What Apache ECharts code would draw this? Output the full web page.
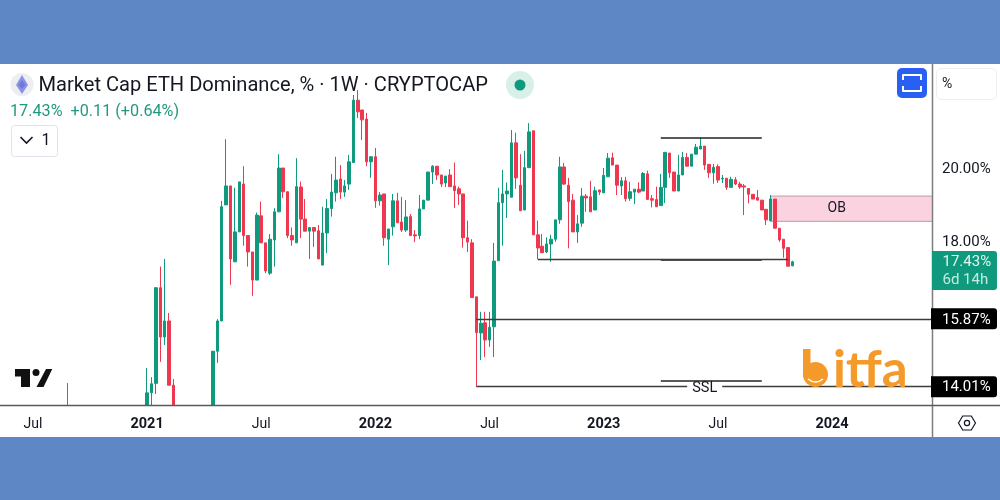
<!DOCTYPE html>
<html>
<head>
<meta charset="utf-8">
<title>Market Cap ETH Dominance</title>
<script src="https://cdn.jsdelivr.net/npm/echarts@6/dist/echarts.min.js"></script>
<style>
  html, body { margin: 0; padding: 0; }
  #chart { width: 1000px; height: 500px; }
</style>
</head>
<body>
<div id="chart"></div>
<script>
// values, one row per ten candles
// weeks hidden under the bottom of the pane are left out
var opens = [13.10,
  13.37,13.84,14.10,16.72,15.37,15.81,14.05,
  13.30,14.98,15.81,18.99,19.51,17.43,18.25,19.56,18.15,17.70,
  16.93,18.69,17.95,17.12,18.03,18.80,20.00,19.35,18.15,17.95,
  19.48,18.60,18.27,18.37,18.28,17.34,18.22,18.89,19.32,19.70,
  19.34,19.56,20.15,21.86,21.59,21.34,20.17,20.31,19.10,19.29,
  18.05,18.39,19.10,18.52,18.30,18.67,18.17,18.15,18.88,19.12,
  19.89,20.05,19.81,19.59,19.81,19.51,19.43,19.29,18.09,17.95,
  16.47,15.48,15.76,15.29,15.65,17.46,19.05,19.29,19.20,20.69,
  19.53,18.85,20.01,21.02,18.17,17.86,17.70,17.92,18.05,18.58,
  20.03,19.53,19.12,18.25,18.49,19.23,19.21,18.85,19.40,19.32,
  19.76,20.28,20.08,19.51,19.65,19.17,19.34,19.42,19.37,19.84,
  19.16,19.14,18.97,19.47,20.41,19.89,19.37,19.81,20.29,20.05,
  20.38,20.52,20.60,20.10,19.87,20.04,19.70,19.72,19.47,19.68,
  19.56,19.51,19.44,19.28,19.19,19.12,18.87,18.56,19.15,18.35,
  18.05,17.82,17.32];
var closes = [13.00,
  13.84,14.09,16.72,15.37,15.81,14.05,13.32,
  14.98,15.81,18.94,19.51,17.51,18.25,19.62,18.15,17.70,16.93,
  18.71,17.95,17.18,18.05,18.80,20.00,19.35,18.15,18.03,19.49,
  18.60,18.27,18.37,18.27,17.51,18.22,18.89,19.34,19.67,19.34,
  19.51,20.17,21.86,21.54,21.32,20.17,20.31,19.10,19.26,18.09,
  18.33,19.10,18.50,18.30,18.66,18.15,18.14,18.88,19.12,19.89,
  20.05,19.81,19.56,19.78,19.49,19.38,19.29,18.09,17.97,16.45,
  15.49,15.75,15.29,15.64,17.45,19.05,19.29,19.37,20.69,19.73,
  18.83,20.01,20.99,18.17,17.81,17.68,17.92,18.05,18.58,20.03,
  19.56,19.08,18.25,18.47,19.23,19.18,18.80,19.38,19.34,19.80,
  20.27,20.08,19.53,19.65,19.16,19.35,19.42,19.34,19.85,19.14,
  19.12,18.94,19.47,20.43,19.87,19.37,19.81,20.29,20.05,20.38,
  20.57,20.60,20.08,19.87,20.02,19.67,19.72,19.47,19.69,19.56,
  19.48,19.48,19.28,19.15,19.12,18.85,18.58,19.15,18.35,18.03,
  17.80,17.31,17.43];
var lows = [12.90,
  13.32,13.45,13.81,14.69,15.15,14.05,13.25,
  13.20,14.66,15.81,18.99,16.80,17.43,18.25,17.87,17.30,16.50,
  16.93,17.95,17.12,17.07,17.30,18.80,19.18,18.08,17.87,17.95,
  18.08,18.27,17.51,17.84,17.51,17.34,17.67,18.67,19.08,19.15,
  19.21,19.40,20.15,21.37,20.77,20.05,19.73,18.91,18.97,17.87,
  17.34,18.15,18.50,18.25,18.25,18.15,17.97,18.05,18.88,19.12,
  19.56,19.67,19.48,19.48,19.49,18.91,18.99,17.82,17.70,16.45,
  14.01,14.74,14.82,15.10,14.82,17.46,17.87,18.63,19.20,19.43,
  18.83,18.85,20.01,18.17,17.50,17.68,17.67,17.43,17.98,18.47,
  19.53,17.80,18.25,17.95,18.39,18.80,18.80,18.85,19.26,19.32,
  19.76,20.08,19.26,19.26,19.08,19.10,19.01,19.31,19.37,19.14,
  18.92,18.93,18.97,19.04,19.73,19.37,19.37,19.81,20.05,20.05,
  20.38,20.52,19.95,19.73,19.57,19.59,19.59,19.40,19.47,19.53,
  19.43,18.71,19.03,19.15,19.12,18.85,18.44,18.56,18.35,17.98,
  17.54,17.31,17.31];
var highs = [14.11,
  14.52,14.27,16.74,17.30,17.51,16.03,14.22,
  14.99,15.86,19.10,20.79,19.51,19.46,19.62,20.05,18.15,17.70,
  18.78,19.08,17.95,18.19,18.90,20.38,20.00,19.35,18.37,20.27,
  19.63,19.15,18.37,18.37,18.44,18.94,19.15,19.84,20.31,20.08,
  19.67,20.36,22.00,22.14,21.59,21.51,20.31,20.55,19.34,19.29,
  18.33,19.29,19.32,19.21,19.12,18.74,18.30,19.26,19.12,19.89,
  20.08,20.05,19.81,19.78,19.97,20.15,19.49,19.29,18.56,18.05,
  16.47,16.06,16.06,16.06,17.95,19.46,19.95,19.60,21.04,20.97,
  20.38,20.47,21.23,21.02,18.56,18.19,18.10,18.17,18.58,20.31,
  20.14,19.73,19.29,18.71,19.45,19.29,19.65,19.49,19.40,20.00,
  20.41,20.42,20.08,19.75,19.76,19.62,19.42,19.61,19.89,19.93,
  19.26,19.49,19.84,20.43,20.41,19.89,20.36,20.44,20.41,20.38,
  20.66,20.83,20.60,20.10,20.11,20.10,19.81,19.72,19.76,19.75,
  19.62,19.56,19.44,19.28,19.40,19.12,18.87,19.26,19.15,18.35,
  18.05,17.82,17.46];

var weekCount = 213;
var candleWeeks = [15];
for (var i = 33; i <= 39; i++) candleWeeks.push(i);
for (var i = 48; i <= 180; i++) candleWeeks.push(i);

var tickWeeks = [7, 33, 59, 85, 111, 137, 163, 189];
var tickLabels = ['Jul', '2021', 'Jul', '2022', 'Jul', '2023', 'Jul', '2024'];
var priceTicks = [14.01, 15.87, 18, 20];
var blackTags = [14.01, 15.87];
var lastPrice = 17.43;

// drawn levels: [start week, end week, price]
var shortLevels = [[150, 173, 20.84], [150, 173, 17.49], [150, 173, 14.18]];
var longLevels = [[122, 179, 17.50], [108, 212, 15.87], [108, 212, 14.01]];
var obBox = [175, 212, 19.23, 18.54];

var upColor = '#0f9a7d';
var downColor = '#ee3850';
var inkColor = '#131722';
var fontName = 'Roboto, "Noto Sans", sans-serif';

var weeks = [];
for (var i = 0; i < weekCount; i++) {
  weeks.push(new Date(Date.UTC(2020, 5, 22) + i * 7 * 864e5).toISOString().slice(0, 10));
}

var candleData = weeks.map(function() { return '-'; });
candleWeeks.forEach(function(w, k) {
  candleData[w] = [opens[k], closes[k], lows[k], highs[k]];
});

function levelPair(l, style) {
  return [
    { coord: [l[0], l[2]], lineStyle: style },
    { coord: [l[1], l[2]] }
  ];
}

var myChart = echarts.init(document.getElementById('chart'));
var option = {
  backgroundColor: '#5d87c5',
  animation: false,
  grid: { left: -1, top: 64, width: 937.2, height: 342 },
  xAxis: {
    type: 'category',
    z: 10,
    data: weeks,
    boundaryGap: true,
    axisLine: { show: false },
    axisTick: { show: false },
    axisLabel: {
      margin: 11,
      interval: function(index) { return tickWeeks.indexOf(index) >= 0; },
      formatter: function(value, index) {
        var t = tickLabels[tickWeeks.indexOf(index)];
        return t === 'Jul' ? t : '{year|' + t + '}';
      },
      color: inkColor,
      fontFamily: fontName,
      fontSize: 14,
      rich: { year: { fontFamily: fontName, fontSize: 14.5, fontWeight: 'bold', color: inkColor } }
    }
  },
  yAxis: {
    type: 'value',
    position: 'right',
    offset: -4.2,
    z: 10,
    min: 13.48,
    max: 22.85,
    splitLine: { show: false },
    axisLine: { show: false },
    axisTick: { show: false },
    axisLabel: {
      margin: 0,
      align: 'left',
      customValues: priceTicks,
      formatter: function(v) {
        var s = v.toFixed(2) + '%';
        return blackTags.indexOf(v) >= 0 ? '{tag|' + s + '}' : '{plain|' + s + '}';
      },
      rich: {
        plain: { fontFamily: fontName, fontSize: 15, color: inkColor, padding: [2, 0, 0, 11] },
        tag: {
          fontFamily: fontName, fontSize: 15, color: '#fff', backgroundColor: '#000',
          padding: [4, 5, 2, 11], width: 50, height: 15, borderRadius: [0, 3, 3, 0]
        }
      }
    }
  },
  series: [{
    type: 'candlestick',
    data: candleData,
    barWidth: 3,
    clip: true,
    itemStyle: {
      color: upColor, color0: downColor,
      borderColor: upColor, borderColor0: downColor,
      borderColorDoji: downColor,
      borderWidth: 1
    },
    markLine: {
      silent: true,
      symbol: 'none',
      label: { show: false },
      lineStyle: { color: '#3a3a3a', width: 1.2, type: 'solid' },
      data: shortLevels.map(function(l) {
        return levelPair(l, { color: '#222', width: 1.6, type: 'solid' });
      }).concat(longLevels.map(function(l) {
        return levelPair(l, { color: '#3c3c3c', width: 1.3, type: 'solid' });
      }))
    },
    markArea: {
      silent: true,
      itemStyle: { color: '#fbd2df', borderColor: '#cba6b6', borderWidth: 1.2 },
      label: { show: true, position: 'inside', offset: [-15, 0], color: inkColor, fontFamily: fontName, fontSize: 14 },
      data: [[
        { name: 'OB', coord: [obBox[0], obBox[2]] },
        { coord: [obBox[1], obBox[3]] }
      ]]
    },
    markPoint: {
      silent: true,
      symbolSize: 0,
      label: {
        show: true, position: 'inside', formatter: '{b}', color: inkColor, fontFamily: fontName,
        fontSize: 14.5, lineHeight: 12, backgroundColor: '#fff', padding: [0, 5]
      },
      data: [{ name: 'SSL', coord: [160, 13.97] }]
    }
  }],
  graphic: [
    // white panel behind the chart, masks for the price and time scales
    { type: 'rect', z: -1, silent: true, shape: { x: 0, y: 64, width: 1000, height: 373 }, style: { fill: '#fff' } },
    { type: 'rect', z: 5, silent: true, shape: { x: 933, y: 64, width: 67, height: 373 }, style: { fill: '#fff' } },
    { type: 'rect', z: 5, silent: true, shape: { x: 0, y: 406, width: 1000, height: 31 }, style: { fill: '#fff' } },
    { type: 'line', z: 6, silent: true, shape: { x1: 932.5, y1: 64, x2: 932.5, y2: 437 }, style: { stroke: '#7d7d7d', lineWidth: 1.5 } },
    { type: 'line', z: 6, silent: true, shape: { x1: 0, y1: 405.5, x2: 1000, y2: 405.5 }, style: { stroke: '#5a5a5a', lineWidth: 1.5 } },

    // header
    { type: 'circle', z: 20, shape: { cx: 22, cy: 84.5, r: 11.5 }, style: { fill: '#eceef2' } },
    { type: 'polygon', z: 21, shape: { points: [[22, 75], [28, 85], [22, 94], [16, 85]] }, style: { fill: '#8a92e6' } },
    { type: 'polygon', z: 21, shape: { points: [[22, 80], [25.5, 85], [22, 89], [18.5, 85]] }, style: { fill: '#6d7bd8' } },
    { type: 'text', z: 20, style: { x: 38.5, y: 86, text: 'Market Cap ETH Dominance, % \u00b7 1W \u00b7 CRYPTOCAP', fill: inkColor, font: '20.1px ' + fontName, verticalAlign: 'middle' } },
    { type: 'circle', z: 20, shape: { cx: 520, cy: 85, r: 14 }, style: { fill: '#d9efe9' } },
    { type: 'circle', z: 21, shape: { cx: 520, cy: 85, r: 5.5 }, style: { fill: upColor } },
    { type: 'text', z: 20, style: { x: 10, y: 112, text: '17.43%  +0.11 (+0.64%)', fill: '#22997f', font: '16.2px ' + fontName, verticalAlign: 'middle' } },
    { type: 'rect', z: 20, shape: { x: 11.5, y: 125.5, width: 46, height: 31, r: 3 }, style: { fill: '#fff', stroke: '#e0e3eb', lineWidth: 1 } },
    { type: 'polyline', z: 21, shape: { points: [[20.5, 137], [26.5, 143], [32.5, 137]] }, style: { fill: 'none', stroke: inkColor, lineWidth: 1.6 } },
    { type: 'text', z: 21, style: { x: 46, y: 140.5, text: '1', fill: inkColor, font: '16px ' + fontName, align: 'center', verticalAlign: 'middle' } },

    // top right buttons
    { type: 'rect', z: 20, shape: { x: 897, y: 68, width: 30, height: 30, r: 5 }, style: { fill: '#2a60f2' } },
    { type: 'polyline', z: 21, shape: { points: [[903, 80], [903, 75], [921, 75], [921, 80]] }, style: { fill: 'none', stroke: '#fff', lineWidth: 2, lineJoin: 'round' } },
    { type: 'polyline', z: 21, shape: { points: [[903, 86], [903, 91], [921, 91], [921, 86]] }, style: { fill: 'none', stroke: '#fff', lineWidth: 2, lineJoin: 'round' } },
    { type: 'rect', z: 20, shape: { x: 936.5, y: 68.5, width: 60, height: 31, r: 5 }, style: { fill: '#fff', stroke: '#eceef1', lineWidth: 1 } },
    { type: 'text', z: 21, style: { x: 942, y: 84.5, text: '%', fill: inkColor, font: '14px ' + fontName, verticalAlign: 'middle' } },

    // last price tag
    { type: 'rect', z: 20, shape: { x: 932, y: 251, width: 65, height: 39, r: [0, 3, 3, 0] }, style: { fill: '#0f9a7d' } },
    { type: 'text', z: 21, style: { x: 942.5, y: 262.5, text: lastPrice.toFixed(2) + '%', fill: '#e4f5f0', font: '15px ' + fontName, verticalAlign: 'middle' } },
    { type: 'text', z: 21, style: { x: 942.5, y: 280.5, text: '6d 14h', fill: '#c5ebe0', font: '15px ' + fontName, verticalAlign: 'middle' } },

    // TradingView mark
    { type: 'polygon', z: 20, shape: { points: [[15, 369], [30, 369], [30, 387], [21, 387], [21, 376.5], [15, 376.5]] }, style: { fill: '#111' } },
    { type: 'polygon', z: 20, shape: { points: [[46, 369], [52.3, 369], [43.5, 387], [36.5, 387]] }, style: { fill: '#111' } },
    { type: 'circle', z: 20, shape: { cx: 36, cy: 372.5, r: 3.5 }, style: { fill: '#111' } },

    // bitfa mark
    { type: 'rect', z: 20, shape: { x: 803, y: 349, width: 7.5, height: 28 }, style: { fill: '#f39a2b' } },
    { type: 'circle', z: 20, shape: { cx: 815.5, cy: 374.5, r: 12.5 }, style: { fill: '#f39a2b' } },
    { type: 'bezierCurve', z: 21, shape: { x1: 808, y1: 379, cpx1: 815.5, cpy1: 385, x2: 823, y2: 379 }, style: { fill: 'none', stroke: '#fff', lineWidth: 1.5 } },
    { type: 'text', z: 20, style: { x: 833, y: 396, text: 'itfa', fill: '#f39a2b', font: 'bold 51px Lato, sans-serif', verticalAlign: 'bottom' } },

    // settings button
    { type: 'polygon', z: 20, shape: { points: [[958.5, 423], [962.7, 416], [971.3, 416], [975.5, 423], [971.3, 430], [962.7, 430]] }, style: { fill: 'none', stroke: inkColor, lineWidth: 1.2 } },
    { type: 'circle', z: 20, shape: { cx: 967, cy: 423, r: 2.6 }, style: { fill: 'none', stroke: inkColor, lineWidth: 1.2 } }
  ]
};
myChart.setOption(option);
window.addEventListener('resize', function() { myChart.resize(); });
</script>
</body>
</html>
